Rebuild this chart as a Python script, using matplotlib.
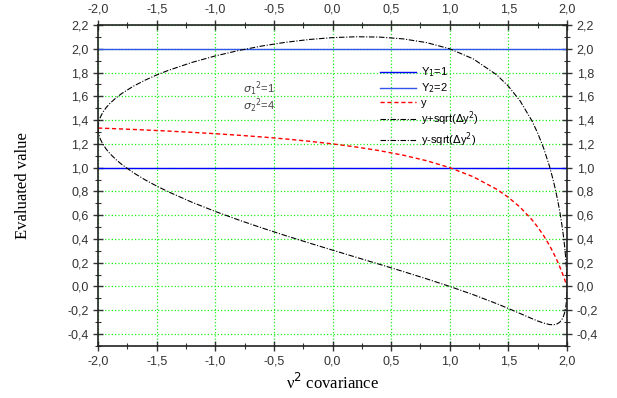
import matplotlib.pyplot as plt
from matplotlib.ticker import FuncFormatter, MultipleLocator

# covariance values (x) and curves
cov = [-2.0, -1.999, -1.995, -1.99, -1.98, -1.96, -1.93, -1.9, -1.85, -1.8,
       -1.7, -1.6, -1.5, -1.4, -1.2, -1.0, -0.8, -0.6, -0.4, -0.2, 0.0,
       0.2, 0.4, 0.6, 0.8, 1.0, 1.2, 1.4, 1.5, 1.6, 1.7, 1.75, 1.8, 1.85,
       1.88, 1.9, 1.92, 1.94, 1.96, 1.97, 1.98, 1.99, 1.995, 1.999, 2.0]
y_mean = [1.3333, 1.3333, 1.3332, 1.3330, 1.3326, 1.3318, 1.3307, 1.3296, 1.3276, 1.3256,
          1.3214, 1.3171, 1.3125, 1.3077, 1.2973, 1.2857, 1.2727, 1.2581, 1.2414, 1.2222, 1.2,
          1.1739, 1.1429, 1.1053, 1.0588, 1.0, 0.9231, 0.8182, 0.75, 0.6667, 0.5625, 0.5, 0.4286, 0.3462,
          0.2903, 0.25, 0.2069, 0.1607, 0.1111, 0.0849, 0.0577, 0.0294, 0.0149, 0.0030, 0.0]
y_up = [1.3333, 1.3544, 1.3803, 1.3996, 1.4268, 1.4651, 1.5069, 1.5401, 1.5852, 1.6229,
        1.6849, 1.7361, 1.7802, 1.8191, 1.8855, 1.9404, 1.9862, 2.0243, 2.0551, 2.0786, 2.0944,
        2.1017, 2.0990, 2.0840, 2.0529, 2.0, 1.9154, 1.7811, 1.6854, 1.5611, 1.3954, 1.2906, 1.1654, 1.0127,
        0.9031, 0.8201, 0.7268, 0.6201, 0.4941, 0.4201, 0.3343, 0.2272, 0.1555, 0.0662, 0.0]
y_low = [1.3333, 1.3122, 1.2860, 1.2663, 1.2383, 1.1986, 1.1545, 1.1190, 1.0700, 1.0283,
         0.9579, 0.8980, 0.8448, 0.7963, 0.7091, 0.6311, 0.5592, 0.4918, 0.4277, 0.3659, 0.3056,
         0.2461, 0.1867, 0.1265, 0.0647, 0.0, -0.0692, -0.1448, -0.1854, -0.2278, -0.2704, -0.2906, -0.3082, -0.3204,
         -0.3224, -0.3201, -0.3131, -0.2987, -0.2719, -0.2503, -0.2190, -0.1684, -0.1258, -0.0602, 0.0]
Y1 = 1.0
Y2 = 2.0

fig = plt.figure(figsize=(6.17, 3.98), dpi=100)
ax = fig.add_axes([0.159, 0.131, 0.76, 0.806])

ax.axhline(Y1, color='#0000ff', lw=1.0, label='Y$_1$=1')
ax.axhline(Y2, color='#3355ee', lw=1.0, label='Y$_2$=2')
ax.plot(cov, y_mean, color='red', ls=(0, (3, 2)), lw=1.0, label='y')
ax.plot(cov, y_up, color='black', ls=(0, (5, 1.5, 1, 1.5)), lw=0.8, label='y+sqrt($\\Delta$y$^2$)')
ax.plot(cov, y_low, color='black', ls=(0, (5, 1.5, 1, 1.5)), lw=0.8, label='y-sqrt($\\Delta$y$^2$)')

ax.set_xlim(-2, 2)
ax.set_ylim(-0.5, 2.2)
ax.xaxis.set_major_locator(MultipleLocator(0.5))
ax.xaxis.set_minor_locator(MultipleLocator(0.25))
ax.yaxis.set_minor_locator(MultipleLocator(0.1))
ax.set_yticks([-0.4, -0.2, 0.0, 0.2, 0.4, 0.6, 0.8, 1.0, 1.2, 1.4, 1.6, 1.8, 2.0, 2.2])

comma = FuncFormatter(lambda v, p: ('%.1f' % v).replace('.', ',').replace('-0,0', '0,0'))
ax.xaxis.set_major_formatter(comma)
ax.yaxis.set_major_formatter(comma)

ax.grid(True, which='major', color='#22ee22', ls=':', lw=0.9)
ax.tick_params(which='both', direction='inout', top=True, right=True,
               labeltop=True, labelright=True, labelsize=9, colors='#333333')
ax.tick_params(which='major', length=7, width=1.0)
ax.tick_params(which='minor', length=4, width=0.8)
for lbl in ax.get_xticklabels() + ax.get_yticklabels():
    lbl.set_fontfamily('Liberation Sans')
for sp in ax.spines.values():
    sp.set_linewidth(1.2)
    sp.set_color('#222222')

ax.set_xlabel('\u03bd$^2$ covariance', family='Liberation Serif', fontsize=12, labelpad=4)
ax.set_ylabel('Evaluated value', family='Liberation Serif', fontsize=12, labelpad=26)

ax.text(-0.76, 1.63, '$\\sigma_1{}^2$=1', fontsize=8, color='#444444', family='Liberation Sans')
ax.text(-0.76, 1.49, '$\\sigma_2{}^2$=4', fontsize=8, color='#444444', family='Liberation Sans')

leg = ax.legend(loc='upper left', bbox_to_anchor=(0.58, 0.905), frameon=False,
                handlelength=3.2, labelspacing=0.2, handletextpad=0.5,
                prop={'family': 'Liberation Sans', 'size': 8})

fig.savefig('out.png', dpi=100)
